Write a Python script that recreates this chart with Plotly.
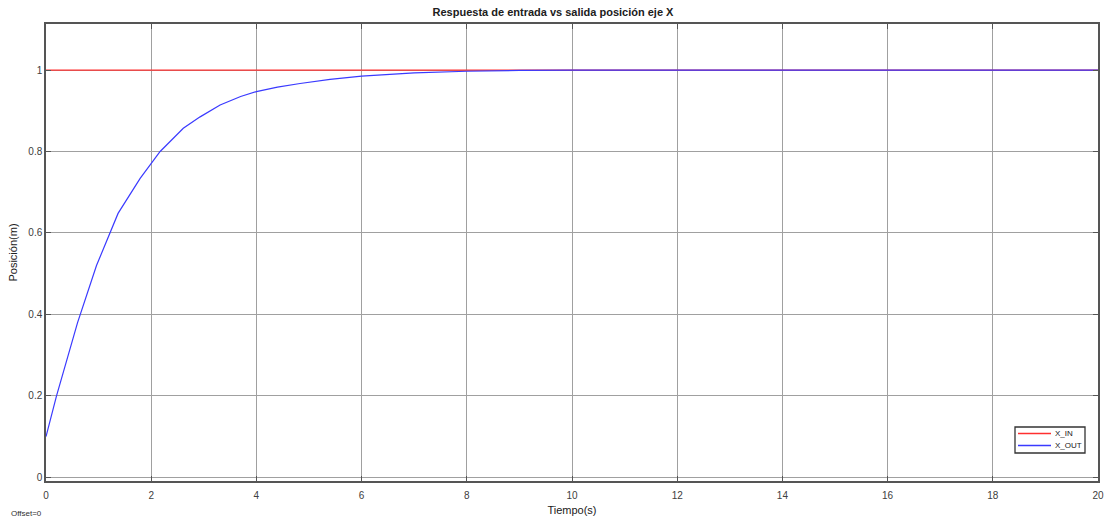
import plotly.graph_objects as go

# Step input on the X axis
t_in = [0, 20]
x_in = [1, 1]

# Simulated X-axis position response
t_out = [0, 0.2, 0.6, 0.96, 1.37, 1.79, 2.17, 2.61, 2.93, 3.31, 3.7, 4.0, 4.4,
         4.83, 5.4, 6.0, 7.0, 8.0, 9.0, 10, 12, 14, 16, 18, 20]
x_out = [0.1, 0.2, 0.38, 0.52, 0.648, 0.734, 0.80, 0.857, 0.885, 0.914, 0.935,
         0.947, 0.958, 0.967, 0.977, 0.985, 0.993, 0.997, 0.999, 1.0, 1.0, 1.0,
         1.0, 1.0, 1.0]

series_names = ["X_IN", "X_OUT"]
series_colors = ["#ff3030", "#3a3aff"]

x_ticks = list(range(0, 21, 2))
y_ticks = [0, 0.2, 0.4, 0.6, 0.8, 1]
y_tick_text = ["0", "0.2", "0.4", "0.6", "0.8", "1"]

FONT = "Liberation Sans, Arial, sans-serif"
W, H = 1106, 519
ML, MR, MT, MB = 46, 8, 24, 38
PW, PH = W - ML - MR, H - MT - MB


def px_to_paper(px, py):
    return (px - ML) / PW, (H - MB - py) / PH


fig = go.Figure()
for t, v, name, color in zip([t_in, t_out], [x_in, x_out], series_names, series_colors):
    fig.add_trace(go.Scatter(x=t, y=v, mode="lines", name=name,
                             line=dict(color=color, width=1.2), showlegend=False))

axis_common = dict(
    showgrid=True, gridcolor="#a0a0a0", gridwidth=1,
    showline=True, linecolor="#555555", linewidth=1.5, mirror="ticks",
    ticks="inside", ticklen=5, tickcolor="#555555",
    zeroline=False, automargin=False,
    tickfont=dict(family=FONT, size=10, color="#404040"),
)

fig.update_xaxes(range=[0, 20], tickvals=x_ticks, ticklabelstandoff=4,
                 title=dict(text="Tiempo(s)", font=dict(family=FONT, size=11, color="#202020"),
                            standoff=7),
                 **axis_common)
fig.update_yaxes(range=[-0.009, 1.113], tickvals=y_ticks, ticktext=y_tick_text,
                 title=dict(text="Posición(m)", font=dict(family=FONT, size=11, color="#202020"),
                            standoff=8),
                 **axis_common)

fig.update_layout(
    width=W, height=H,
    margin=dict(l=ML, r=MR, t=MT, b=MB),
    paper_bgcolor="white", plot_bgcolor="white",
    title=dict(text="<b>Respuesta de entrada vs salida posición eje X</b>",
               x=0.5, xanchor="center", y=1 - 12 / H, yanchor="middle",
               font=dict(family=FONT, size=11, color="#202020")),
    showlegend=False,
)

# Compact legend box in the lower-right corner
x0, y0 = px_to_paper(1015, 427)
x1, y1 = px_to_paper(1085, 453)
fig.add_shape(type="rect", xref="paper", yref="paper", x0=x0, y0=y1, x1=x1, y1=y0,
              line=dict(color="#333333", width=1.3), fillcolor="white", layer="above")
for i, (name, color) in enumerate(zip(series_names, series_colors)):
    row_y = 433.5 + i * 12
    lx0, ly = px_to_paper(1018, row_y)
    lx1, _ = px_to_paper(1051, row_y)
    tx, _ = px_to_paper(1053, row_y)
    fig.add_shape(type="line", xref="paper", yref="paper", x0=lx0, x1=lx1, y0=ly, y1=ly,
                  line=dict(color=color, width=1.5), layer="above")
    fig.add_annotation(text=name, xref="paper", yref="paper", x=tx, y=ly,
                       xanchor="left", yanchor="middle", showarrow=False,
                       font=dict(family=FONT, size=8, color="#202020"))

ox, oy = px_to_paper(9, 513)
fig.add_annotation(text="Offset=0", xref="paper", yref="paper",
                   x=ox, y=oy, xanchor="left", yanchor="middle",
                   showarrow=False, font=dict(family=FONT, size=8, color="#303030"))

fig.write_html("out.html")
